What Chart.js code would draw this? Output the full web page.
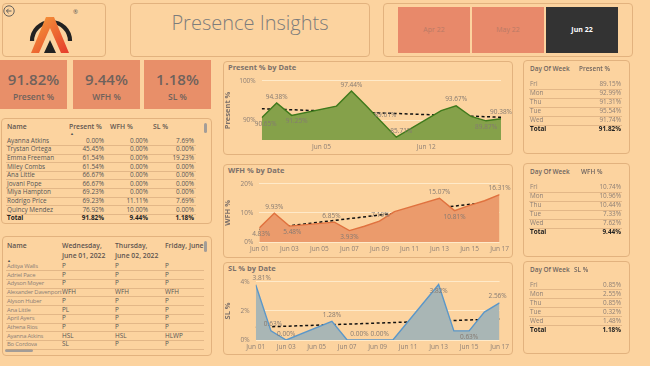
<!DOCTYPE html>
<html>
<head>
<meta charset="utf-8">
<script src="https://cdn.jsdelivr.net/npm/chart.js@4.4.0/dist/chart.umd.min.js"></script>
<style>
  body { margin: 0; width: 650px; height: 366px; background: #fcd39f; font-family: 'Open Sans', 'Noto Sans', sans-serif; position: relative; overflow: hidden; color: #555; }
  .panel { position: absolute; border: 1px solid #e2b27e; border-radius: 4px; box-sizing: border-box; }
  .abs { position: absolute; white-space: nowrap; }
  .kpi { position: absolute; background: #e88f69; top: 60px; height: 49px; width: 67px; text-align: center; color: #6f625c; }
  .kpi .big { position: absolute; left: 0; right: 0; top: 10px; font-size: 15px; font-weight: 600; line-height: 18px; }
  .kpi .lbl { position: absolute; left: 0; right: 0; top: 31px; font-size: 8.5px; font-weight: 600; line-height: 12px; }
  .btn { position: absolute; top: 7px; height: 46px; width: 72px; background: #e8896a; color: #b97a66; font-size: 7px; line-height: 46px; text-align: center; }
  .ctitle { position: absolute; font-size: 7.5px; font-weight: 700; color: #7d716a; }
  canvas { position: absolute; }
  .sep { position: absolute; height: 1px; background: rgba(205,160,115,0.55); }
  .sb { position: absolute; background: #a39d98; border-radius: 2px; }
</style>
</head>
<body>

<!-- header -->
<div class="panel" style="left:2px;top:3px;width:104px;height:54px;"></div>
<svg class="abs" style="left:2px;top:3px" width="104" height="54" viewBox="0 0 104 54">
  <defs>
    <linearGradient id="ag" x1="0" y1="0" x2="1" y2="1">
      <stop offset="0" stop-color="#f6a03a"/>
      <stop offset="1" stop-color="#e53a2c"/>
    </linearGradient>
  </defs>
  <circle cx="7" cy="8" r="5.2" fill="none" stroke="#555" stroke-width="0.9"/>
  <path d="M9.5 8 H4.5 M6.6 5.8 L4.4 8 L6.6 10.2" fill="none" stroke="#555" stroke-width="0.9"/>
  <path d="M30 38 A19 19 0 1 1 68 38" fill="none" stroke="#222" stroke-width="4.2"/>
  <path d="M29 50 L44 14 L52 14 L67 50 L59 50 L48 25 L37 50 Z" fill="url(#ag)"/>
  <path d="M42 50 L48 37 L54 50 Z" fill="#222"/>
  <text x="71" y="11" font-size="6" fill="#555">®</text>
</svg>

<div class="panel" style="left:130px;top:3px;width:240px;height:54px;"></div>
<div class="abs" style="left:130px;top:8px;width:240px;text-align:center;font-size:20px;font-weight:300;color:#7c7c7c;line-height:30px;">Presence Insights</div>

<div class="panel" style="left:383px;top:3px;width:250px;height:54px;"></div>
<div class="btn" style="left:398px;">Apr 22</div>
<div class="btn" style="left:472px;">May 22</div>
<div class="btn" style="left:546px;background:#333;color:#fff;font-weight:700;">Jun 22</div>

<!-- KPI cards -->
<div class="kpi" style="left:0px;"><div class="big">91.82%</div><div class="lbl">Present %</div></div>
<div class="kpi" style="left:73px;"><div class="big">9.44%</div><div class="lbl">WFH %</div></div>
<div class="kpi" style="left:144px;"><div class="big">1.18%</div><div class="lbl">SL %</div></div>

<!-- left tables -->
<div class="panel" style="left:1px;top:118px;width:211px;height:106px;"></div>
<div class="panel" style="left:2px;top:236px;width:210px;height:120px;"></div>

<!-- chart panels -->
<div class="panel" style="left:223px;top:61px;width:290px;height:94px;"></div>
<div class="ctitle" style="left:228px;top:62px;">Present % by Date</div>
<canvas id="presentChart" width="289" height="84" style="left:223px;top:71px;"></canvas>

<div class="panel" style="left:223px;top:164px;width:290px;height:94px;"></div>
<div class="ctitle" style="left:228px;top:165px;">WFH % by Date</div>
<canvas id="wfhChart" width="289" height="84" style="left:223px;top:174px;"></canvas>

<div class="panel" style="left:223px;top:262px;width:290px;height:93px;"></div>
<div class="ctitle" style="left:228px;top:263px;">SL % by Date</div>
<canvas id="slChart" width="289" height="82" style="left:223px;top:272px;"></canvas>

<!-- right tables -->
<div class="panel" style="left:523px;top:60px;width:107px;height:94px;"></div>
<div class="panel" style="left:523px;top:163px;width:107px;height:94px;"></div>
<div class="panel" style="left:523px;top:261px;width:107px;height:93px;"></div>

<script>
// chart data (working days of June 2022)
var days = [1, 2, 3, 6, 7, 8, 9, 10, 13, 14, 15, 16, 17];
var presentPct = [90.65, 94.38, 91.25, 93.60, 97.44, 93.60, 89.61, 85.71, 92.48, 93.67, 90.97, 89.87, 90.38];
var wfhPct = [4.83, 9.93, 5.48, 6.85, 3.93, 5.43, 7.19, 10.43, 15.07, 10.81, 12.60, 14.20, 16.31];
var slPct = [3.81, 0.63, 0.00, 1.28, 0.00, 0.00, 0.00, 0.00, 3.82, 0.63, 0.63, 1.92, 2.56];

// employee table
var empNames = ['Ayanna Atkins', 'Trystan Ortega', 'Emma Freeman', 'Miley Combs', 'Ana Little', 'Jovani Pope', 'Miya Hampton', 'Rodrigo Price', 'Quincy Mendez'];
var empPresent = ['0.00%', '45.45%', '61.54%', '61.54%', '66.67%', '66.67%', '69.23%', '69.23%', '76.92%'];
var empWfh = ['0.00%', '0.00%', '0.00%', '0.00%', '0.00%', '0.00%', '0.00%', '11.11%', '10.00%'];
var empSl = ['7.69%', '0.00%', '19.23%', '0.00%', '0.00%', '0.00%', '0.00%', '7.69%', '0.00%'];
var empTotal = ['91.82%', '9.44%', '1.18%'];

// attendance matrix
var attNames = ['Aditya Walls', 'Adriel Pace', 'Adyson Moyer', 'Alexander Davenport', 'Alyson Huber', 'Ana Little', 'April Ayers', 'Athena Rios', 'Ayanna Atkins', 'Bo Cordova'];
var attWed = ['P', 'P', 'P', 'WFH', 'P', 'PL', 'P', 'P', 'HSL', 'SL'];
var attThu = ['P', 'P', 'P', 'WFH', 'P', 'P', 'P', 'P', 'HSL', 'P'];
var attFri = ['P', 'P', 'P', 'WFH', 'P', 'P', 'P', 'P', 'HLWP', 'P'];

// day of week tables
var dow = ['Fri', 'Mon', 'Thu', 'Tue', 'Wed'];
var dowPresent = ['89.15%', '92.99%', '91.31%', '95.54%', '91.74%'];
var dowWfh = ['10.74%', '10.96%', '10.44%', '7.33%', '7.62%'];
var dowSl = ['0.85%', '2.55%', '0.85%', '0.32%', '1.48%'];

function txt(s, left, cy, css) {
    var d = document.createElement('div')
    d.className = 'abs'
    d.textContent = s
    d.style.cssText += 'left:' + left + 'px;top:' + (cy - 5) + 'px;line-height:10px;font-size:6.4px;' + (css || '')
    document.body.appendChild(d)
    return d
}
function rtxt(s, right, cy, css) {
    return txt(s, 0, cy, 'width:' + right + 'px;text-align:right;' + (css || ''))
}
function sep(left, width, y) {
    var d = document.createElement('div')
    d.className = 'sep'
    d.style.cssText += 'left:' + left + 'px;width:' + width + 'px;top:' + y + 'px;'
    document.body.appendChild(d)
}
function sbar(left, top, w, h) {
    var d = document.createElement('div')
    d.className = 'sb'
    d.style.cssText += 'left:' + left + 'px;top:' + top + 'px;width:' + w + 'px;height:' + h + 'px;'
    document.body.appendChild(d)
}

var hdr = 'font-size:6.8px;font-weight:600;color:#5f5550;'

// table 1
txt('Name', 7, 127, hdr)
txt('Present %', 69, 127, hdr)
txt('WFH %', 110, 127, hdr)
txt('SL %', 153, 127, hdr)
txt('▲', 70, 133.5, 'font-size:4px;color:#555;')
sbar(204, 123, 3, 10)
for (var i = 0; i < empNames.length; i++) {
    var cy = 140.7 + i * 8.6
    txt(empNames[i], 7, cy)
    rtxt(empPresent[i], 104, cy)
    rtxt(empWfh[i], 148, cy)
    rtxt(empSl[i], 194, cy)
    sep(6, 190, cy + 4.2)
}
var tb = 'font-weight:700;color:#222;'
txt('Total', 7, 218.3, tb)
rtxt(empTotal[0], 104, 218.3, tb)
rtxt(empTotal[1], 148, 218.3, tb)
rtxt(empTotal[2], 194, 218.3, tb)

// table 2
txt('Name', 7, 246, hdr)
txt('Wednesday,', 62, 246, hdr)
txt('June 01, 2022', 62, 256, hdr)
txt('Thursday,', 115, 246, hdr)
txt('June 02, 2022', 115, 256, hdr)
txt('Friday, June', 165, 246, hdr)
txt('▲', 7, 261, 'font-size:4px;color:#555;')
sbar(204, 241, 3, 11)
sbar(5, 349, 28, 3)
for (var j = 0; j < attNames.length; j++) {
    var cy2 = 266 + j * 8.7
    txt(attNames[j], 7, cy2, 'color:#8d7f76;font-size:5.9px;letter-spacing:-0.2px;')
    txt(attWed[j], 62, cy2)
    txt(attThu[j], 115, cy2)
    txt(attFri[j], 165, cy2)
    sep(6, 198, cy2 + 4.3)
}

// day of week tables
function dowTable(top, title, colLeft, vals, total) {
    txt('Day Of Week', 530, top, hdr + 'color:#6f6560;font-size:6.4px;')
    txt(title, colLeft, top, hdr + 'color:#6f6560;font-size:6.4px;')
    for (var k = 0; k < dow.length; k++) {
        var cy = top + 15 + k * 9
        txt(dow[k], 530, cy, 'color:#8d7f76;')
        rtxt(vals[k], 621, cy, 'color:#8d7f76;')
        sep(529, 93, cy + 4.4)
    }
    txt('Total', 530, top + 15 + 5 * 9, tb)
    rtxt(total, 621, top + 15 + 5 * 9, tb)
}
dowTable(69.3, 'Present %', 579, dowPresent, '91.82%')
dowTable(172.3, 'WFH %', 581, dowWfh, '9.44%')
dowTable(270, 'SL %', 574, dowSl, '1.18%')

// value labels on chosen points
var pointLabels = {
    id: 'pointLabels',
    afterDatasetsDraw: function (chart, args, opts) {
        if (!opts.items) return
        var ctx = chart.ctx
        var meta = chart.getDatasetMeta(0)
        ctx.save()
        ctx.font = '6.5px "Open Sans"'
        ctx.fillStyle = '#857a72'
        ctx.textAlign = 'center'
        opts.items.forEach(function (it) {
            var p = meta.data[it[0]]
            var v = chart.data.datasets[0].data[it[0]].y
            ctx.textBaseline = it[1] === 'a' ? 'bottom' : 'top'
            ctx.fillText(v.toFixed(2) + '%', p.x + (it[2] || 0), p.y + (it[1] === 'a' ? -3 : 3))
        })
        ctx.restore()
    }
}

function trend(values) {
    var n = days.length, sx = 0, sy = 0, sxy = 0, sxx = 0
    for (var i = 0; i < n; i++) {
        sx += days[i]; sy += values[i]; sxy += days[i] * values[i]; sxx += days[i] * days[i]
    }
    var b = (n * sxy - sx * sy) / (n * sxx - sx * sx)
    var a = (sy - b * sx) / n
    return [{x: days[0], y: a + b * days[0]}, {x: days[n - 1], y: a + b * days[n - 1]}]
}

function pad(v) { return 'Jun ' + (v < 10 ? '0' : '') + v }

function makeChart(id, values, cfg) {
    var pts = days.map(function (d, i) { return {x: d, y: values[i]} })
    return new Chart(document.getElementById(id), {
        type: 'line',
        data: {
            datasets: [{
                data: pts,
                borderColor: cfg.line,
                backgroundColor: cfg.fill,
                borderWidth: 1.4,
                pointRadius: 0,
                fill: 'start',
                tension: 0
            }, {
                data: trend(values),
                borderColor: '#111',
                borderWidth: 1.5,
                borderDash: [3, 2.5],
                pointRadius: 0,
                fill: false
            }]
        },
        options: {
            responsive: false,
            animation: false,
            layout: {padding: {top: cfg.top, right: 11, left: 0, bottom: 0}},
            plugins: {legend: {display: false}, tooltip: {enabled: false}, pointLabels: {items: cfg.labels}},
            scales: {
                x: {
                    type: 'linear', min: 1, max: 17,
                    afterBuildTicks: function (s) { s.ticks = cfg.xTicks.map(function (v) { return {value: v} }) },
                    afterFit: function (s) { s.height = cfg.xH },
                    grid: {display: false, drawTicks: false},
                    border: {display: false},
                    ticks: {autoSkip: false, maxRotation: 0, padding: 3, color: '#8d7f76', font: {size: 6.5, family: 'Open Sans'}, callback: pad}
                },
                y: {
                    min: cfg.yMin, max: cfg.yMax,
                    afterBuildTicks: function (s) { s.ticks = cfg.yTicks.map(function (v) { return {value: v} }) },
                    afterFit: function (s) { s.width = cfg.yW },
                    grid: {color: 'rgba(255,236,205,0.9)', drawTicks: false},
                    border: {display: false},
                    ticks: {padding: 6, color: '#8d7f76', font: {size: 6.5, family: 'Open Sans'}, callback: function (v) { return v + '%' }},
                    title: {display: true, text: cfg.title, color: '#7d716a', font: {size: 7.5, weight: 'bold', family: 'Open Sans'}, padding: 0}
                }
            }
        },
        plugins: [pointLabels]
    })
}

makeChart('presentChart', presentPct, {
    line: '#3f7a1c', fill: '#85a14a', yMin: 85, yMax: 100, yTicks: [90, 100], xTicks: [5, 12],
    title: 'Present %', yW: 38.7, xH: 15, top: 7,
    labels: [[0, 'b', 4], [1, 'a'], [2, 'b', 5], [4, 'a'], [6, 'a', 4], [7, 'a', 5], [9, 'a'], [11, 'b'], [12, 'a']]
})
makeChart('wfhChart', wfhPct, {
    line: '#e0723f', fill: '#eb9b6c', yMin: 0, yMax: 20, yTicks: [0, 10, 20], xTicks: [1, 3, 5, 7, 9, 11, 13, 15, 17],
    title: 'WFH %', yW: 36.3, xH: 16, top: 8,
    labels: [[0, 'b', 2], [1, 'a'], [2, 'b', 3], [3, 'a', -3], [4, 'b'], [6, 'a', 1], [8, 'a'], [9, 'b'], [12, 'a']]
})
makeChart('slChart', slPct, {
    line: '#5b97c9', fill: '#a9b6b5', yMin: 0, yMax: 4, yTicks: [0, 2, 4], xTicks: [1, 3, 5, 7, 9, 11, 13, 15, 17],
    title: 'SL %', yW: 32.7, xH: 14, top: 8.7,
    labels: [[0, 'a', 6], [1, 'a', 2], [2, 'a'], [3, 'a'], [5, 'a', -3], [6, 'a', 2], [8, 'b'], [10, 'b'], [12, 'a', -2]]
})
</script>
</body>
</html>
